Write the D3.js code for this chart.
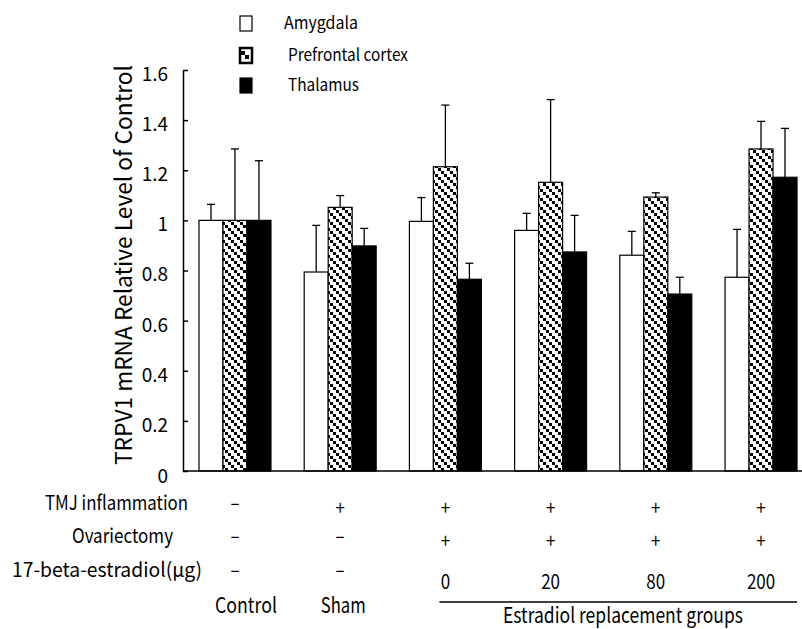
<!DOCTYPE html>
<html>
<head>
<meta charset="utf-8">
<script src="https://cdn.jsdelivr.net/npm/d3@7"></script>
<style>
  body { margin: 0; background: #fff; }
  svg { display: block; font-family: "Noto Sans CJK KR", "Noto Sans", sans-serif; }
</style>
</head>
<body>
<svg id="chart" width="802" height="629"></svg>
<script>
// Data
const groups = ["Control", "Sham", "E0", "E20", "E80", "E200"];
const seriesNames = ["Amygdala", "Prefrontal cortex", "Thalamus"];

const amygdala = [1.0, 0.794, 0.996, 0.96, 0.861, 0.773];
const amygdalaErr = [0.064, 0.186, 0.095, 0.068, 0.095, 0.191];
const prefrontal = [1.0, 1.052, 1.214, 1.152, 1.093, 1.285];
const prefrontalErr = [0.285, 0.047, 0.246, 0.33, 0.017, 0.11];
const thalamus = [1.0, 0.898, 0.765, 0.874, 0.706, 1.172];
const thalamusErr = [0.238, 0.07, 0.064, 0.146, 0.067, 0.195];

const yTicks = [0, 0.2, 0.4, 0.6, 0.8, 1, 1.2, 1.4, 1.6];

const rowLabels = ["TMJ inflammation", "Ovariectomy", "17-beta-estradiol(μg)"];
const tmjRow = ["–", "+", "+", "+", "+", "+"];
const ovxRow = ["–", "–", "+", "+", "+", "+"];
const doseRow = ["–", "–", "0", "20", "80", "200"];
const groupLabels = ["Control", "Sham", "", "", "", ""];
const bracketLabel = "Estradiol replacement groups";
const yLabel = "TRPV1 mRNA Relative Level of Control";

const svg = d3.select("#chart");

// squeeze a text to the width it has in the figure (the original font is narrow)
function fit(sel, w) {
  sel.attr("textLength", w).attr("lengthAdjust", "spacingAndGlyphs");
  return sel;
}

// hatch pattern for prefrontal cortex
const defs = svg.append("defs");
const pat = defs.append("pattern")
  .attr("id", "hatch")
  .attr("patternUnits", "userSpaceOnUse")
  .attr("width", 9).attr("height", 9);
pat.append("rect").attr("width", 9).attr("height", 9).attr("fill", "#fff");
[0, 3, 6].forEach(i => {
  pat.append("rect").attr("x", i).attr("y", i).attr("width", 3).attr("height", 3).attr("fill", "#000");
});

const fills = ["#fff", "url(#hatch)", "#000"];

const y = d3.scaleLinear().domain([0, 1.6]).range([471, 70]);

const x0 = d3.scaleBand()
  .domain(groups)
  .range([183, 813])
  .paddingInner(0.316)
  .paddingOuter(0.152);

const x1 = d3.scaleBand()
  .domain(seriesNames)
  .range([0, x0.bandwidth()]);

const values = [amygdala, prefrontal, thalamus];
const errs = [amygdalaErr, prefrontalErr, thalamusErr];

const rows = [];
groups.forEach((g, gi) => {
  seriesNames.forEach((s, si) => {
    rows.push({ group: g, series: s, si, value: values[si][gi], err: errs[si][gi] });
  });
});

// error bars (drawn first so bars sit on top of the stem)
const eb = svg.append("g").attr("stroke", "#000").attr("stroke-width", 1.3);
rows.forEach(d => {
  const cx = x0(d.group) + x1(d.series) + x1.bandwidth() / 2;
  eb.append("line")
    .attr("x1", cx).attr("x2", cx)
    .attr("y1", y(d.value)).attr("y2", y(d.value + d.err));
  eb.append("line")
    .attr("x1", cx - 4).attr("x2", cx + 4)
    .attr("y1", y(d.value + d.err)).attr("y2", y(d.value + d.err));
});

// bars
svg.append("g")
  .selectAll("rect")
  .data(rows)
  .join("rect")
  .attr("x", d => x0(d.group) + x1(d.series))
  .attr("y", d => y(d.value))
  .attr("width", x1.bandwidth())
  .attr("height", d => y(0) - y(d.value))
  .attr("fill", d => fills[d.si])
  .attr("stroke", "#000")
  .attr("stroke-width", 1.2);

// y axis, ticks pointing inward
const yAxis = svg.append("g")
  .attr("transform", "translate(183,0)")
  .call(d3.axisLeft(y).tickValues(yTicks).tickSizeInner(-5).tickSizeOuter(0).tickPadding(15)
    .tickFormat(d => d3.format("~g")(d)));
yAxis.select(".domain").attr("stroke-width", 1.5);
yAxis.selectAll(".tick line").attr("stroke-width", 1.5);
yAxis.selectAll(".tick text")
  .attr("font-size", 19)
  .attr("font-family", "Noto Sans CJK KR")
  .attr("fill", "#000")
  .attr("dy", d => d === 0 ? "0.6em" : "0.55em");

// x axis line
svg.append("line")
  .attr("x1", 183).attr("x2", 802)
  .attr("y1", y(0)).attr("y2", y(0))
  .attr("stroke", "#000").attr("stroke-width", 1.6);

// y label
fit(svg.append("text")
  .attr("transform", "translate(132,265) rotate(-90)")
  .attr("text-anchor", "middle")
  .attr("font-size", 23)
  .text(yLabel), 400);

// legend
const legendWidths = [74, 120, 71];
const legend = svg.append("g");
seriesNames.forEach((s, i) => {
  const ly = [16, 48, 78][i];
  legend.append("rect")
    .attr("x", 240).attr("y", ly)
    .attr("width", 12).attr("height", 15)
    .attr("fill", i === 1 ? "#fff" : fills[i])
    .attr("stroke", "#000").attr("stroke-width", i === 1 ? 2.5 : 1.2);
  if (i === 1) {
    legend.append("rect").attr("x", 241).attr("y", ly + 3).attr("width", 4).attr("height", 4).attr("fill", "#000");
    legend.append("rect").attr("x", 245).attr("y", ly + 7).attr("width", 4).attr("height", 4).attr("fill", "#000");
  }
  fit(legend.append("text")
    .attr("x", i === 0 ? 284 : 288)
    .attr("y", ly + 13)
    .attr("font-size", 17)
    .text(s), legendWidths[i]);
});

// condition table under the axis
const cx = g => x0(g) + x0.bandwidth() / 2;
const tableRows = [
  { label: rowLabels[0], cells: tmjRow, base: 510, lx: 45, w: 143 },
  { label: rowLabels[1], cells: ovxRow, base: 543, lx: 72, w: 101 },
  { label: rowLabels[2], cells: doseRow, base: 577, lx: 12, w: 190 }
];
const offs = c => c === "–" ? 0 : (c === "+" ? 5 : 12);
tableRows.forEach(r => {
  fit(svg.append("text")
    .attr("x", r.lx).attr("y", r.base)
    .attr("font-size", 20)
    .text(r.label), r.w);
  svg.append("g").selectAll("text")
    .data(r.cells)
    .join("text")
    .attr("x", (d, i) => cx(groups[i]))
    .attr("y", d => r.base + offs(d))
    .attr("text-anchor", "middle")
    .attr("font-size", 20)
    .attr("transform", function (d, i) {
      const x = cx(groups[i]);
      return `translate(${x},0) scale(0.85,1) translate(${-x},0)`;
    })
    .text(d => d);
});

const groupWidths = [62, 45];
svg.append("g").selectAll("text")
  .data(groupLabels.filter(d => d))
  .join("text")
  .attr("x", (d, i) => cx(groups[i]) + [11, 3][i] - groupWidths[i] / 2)
  .attr("y", 613)
  .attr("font-size", 21)
  .text(d => d)
  .each(function (d, i) { fit(d3.select(this), groupWidths[i]); });

const bx1 = cx("E0") - 6;
const bx2 = x0("E200") + x0.bandwidth();
svg.append("line")
  .attr("x1", bx1).attr("x2", bx2)
  .attr("y1", 602).attr("y2", 602)
  .attr("stroke", "#000").attr("stroke-width", 1.3);
fit(svg.append("text")
  .attr("x", 503).attr("y", 623)
  .attr("font-size", 21)
  .text(bracketLabel), 240);
</script>
</body>
</html>
